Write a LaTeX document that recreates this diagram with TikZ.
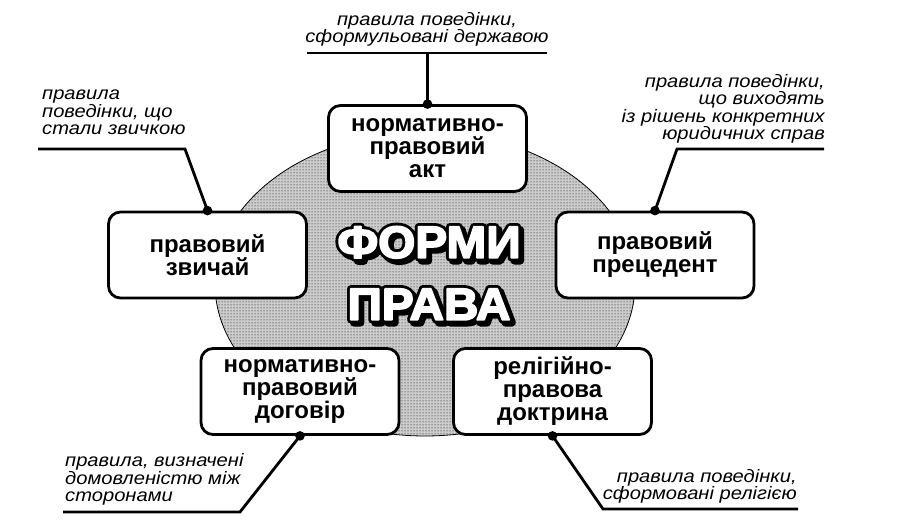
\documentclass[tikz,border=0pt]{standalone}
\usepackage{fontspec}
\setmainfont{Liberation Sans}
\newfontfamily\boxfont{Liberation Sans}
\newfontfamily\labfont[FakeStretch=1.12]{Liberation Sans}
\newfontfamily\titlefont[FakeStretch=1.06]{Liberation Sans}
\usetikzlibrary{patterns}
% stroked text: #1 = stroke width, #2 = text
\newcommand\strokedtext[2]{\special{pdf:literal direct 1 j #1 w 2 Tr}#2\special{pdf:literal direct 0 Tr}}

\tikzset{
  formbox/.style={draw, line width=2.8pt, rounded corners=12pt, fill=white,
    minimum width=198pt, minimum height=86pt, inner sep=0pt, align=center,
    font=\boxfont\bfseries\fontsize{24}{23}\selectfont},
  lab/.style={inner sep=0pt, text depth=0pt,
    font=\labfont\itshape\fontsize{18}{17.5}\selectfont},
  conn/.style={line width=2.8pt, line join=miter},
  titletext/.style={inner sep=0pt, text depth=0pt, align=center,
    font=\titlefont\bfseries\fontsize{45}{62}\selectfont},
}

\begin{document}
\begin{tikzpicture}[x=1pt, y=-1pt]
\useasboundingbox (0,0) rectangle (911,521);

% background ellipse
\fill[gray!40] (425,284) ellipse (210pt and 152pt);
\fill[pattern=dots, pattern color=black] (425,284) ellipse (210pt and 152pt);
\draw[line width=0.8pt] (425,284) ellipse (210pt and 152pt);

% title: shadow, black outline, white letters
\node[titletext, anchor=south, text=black] (titleshadow) at (432,323)
  {\strokedtext{7.5}{ФОРМИ}\\\strokedtext{7.5}{ПРАВА}};
\node[titletext, anchor=south, text=black] (titleoutline) at (429,320)
  {\strokedtext{7.5}{ФОРМИ}\\\strokedtext{7.5}{ПРАВА}};
\node[titletext, anchor=south, text=white] (title) at (429,320)
  {\strokedtext{1.8}{ФОРМИ}\\\strokedtext{1.8}{ПРАВА}};

% boxes
\node[formbox] (akt) at (427.5,148.5) {нормативно-\\правовий\\акт};
\node[formbox] (zvychai) at (207.5,255) {правовий\\звичай};
\node[formbox] (precedent) at (655,255) {правовий\\прецедент};
\node[formbox] (dogovir) at (300,391.5) {нормативно-\\правовий\\договір};
\node[formbox] (doktryna) at (552.5,391.5) {релігійно-\\правова\\доктрина};

% label lines
\coordinate (u1a) at (307,53);  \coordinate (u1b) at (547,53);
\coordinate (u2a) at (38,149);  \coordinate (u2b) at (185,149);
\coordinate (u3a) at (677,149); \coordinate (u3b) at (824,149);
\coordinate (u4a) at (63,512);  \coordinate (u4b) at (240,512);
\coordinate (u5a) at (603,509); \coordinate (u5b) at (798,509);

\draw[conn] (u1a) -- (u1b);
\draw[conn] (akt.north) -- (akt.north |- u1a);
\draw[conn] (zvychai.north) -- (u2b) -- (u2a);
\draw[conn] (precedent.north) -- (u3a) -- (u3b);
\draw[conn] (dogovir.south) -- (u4b) -- (u4a);
\draw[conn] (doktryna.south) -- (u5a) -- (u5b);

% dots
\foreach \n/\a in {akt/north, zvychai/north, precedent/north, dogovir/south, doktryna/south}
  \fill (\n.\a) circle (4.8pt);

% labels
\node[lab, anchor=south, align=center] (l1) at (427,43)
  {правила поведінки,\\сформульовані державою};
\node[lab, anchor=south west, align=left] (l2) at (42,135)
  {правила\\поведінки, що\\стали звичкою};
\node[lab, anchor=south east, align=right] (l3) at (825,140)
  {правила поведінки,\\що виходять\\із рішень конкретних\\юридичних справ};
\node[lab, anchor=south west, align=left] (l4) at (65,502)
  {правила, визначені\\домовленістю між\\сторонами};
\node[lab, anchor=south east, align=right] (l5) at (797,500)
  {правила поведінки,\\сформовані релігією};
\end{tikzpicture}
\end{document}
